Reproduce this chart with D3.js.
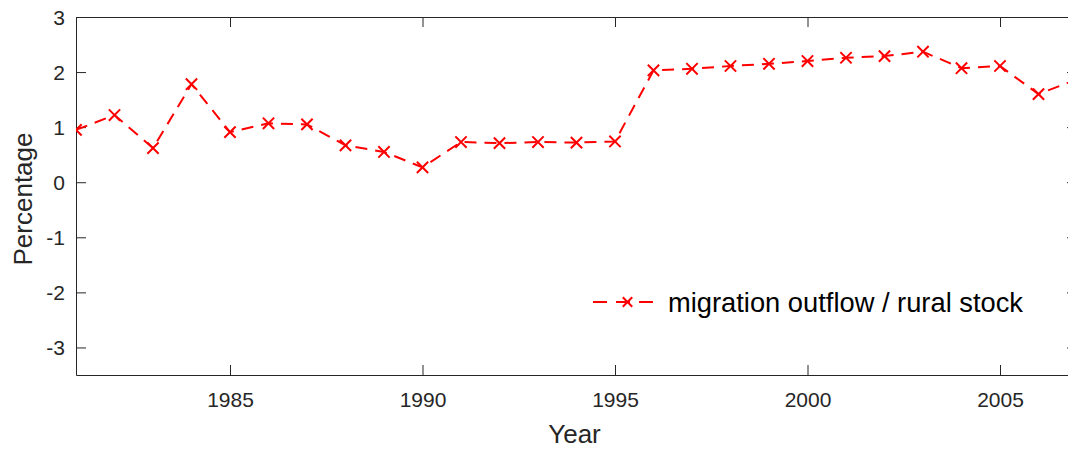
<!DOCTYPE html>
<html><head><meta charset="utf-8">
<script src="https://cdn.jsdelivr.net/npm/d3@7"></script>
<style>
html,body{margin:0;padding:0;background:#fff;overflow:hidden}
svg{display:block;font-family:"Liberation Sans",Arial,Helvetica,sans-serif}
</style></head>
<body>
<svg id="chart" width="1068" height="449"></svg>
<script>
const years = [1981,1982,1983,1984,1985,1986,1987,1988,1989,1990,1991,1992,1993,1994,1995,1996,1997,1998,1999,2000,2001,2002,2003,2004,2005,2006,2007];
const values = [0.95,1.22,0.62,1.78,0.91,1.07,1.05,0.67,0.55,0.27,0.73,0.71,0.73,0.72,0.74,2.03,2.06,2.11,2.15,2.20,2.26,2.29,2.37,2.07,2.11,1.60,1.87];
const xTicks = [1985,1990,1995,2000,2005];
const yTicks = [-3,-2,-1,0,1,2,3];
const seriesName = "migration outflow / rural stock";
const xLabel = "Year", yLabel = "Percentage";

(function(){
const svg = d3.select("#chart");
const mL = 76, mR = 1077, mT = 17, mB = 375;
const x = d3.scaleLinear().domain([1981,2007]).range([mL,mR]);
const y = d3.scaleLinear().domain([-3.5,3]).range([mB,mT]);
const axisColor = "#262626";

svg.append("clipPath").attr("id","clip").append("rect")
  .attr("x",mL).attr("y",mT).attr("width",mR-mL).attr("height",mB-mT);

// axes
const gx = svg.append("g").attr("transform",`translate(0,${mB})`)
  .call(d3.axisBottom(x).tickValues(xTicks).tickFormat(d=>String(d)).tickSizeInner(-10).tickSizeOuter(0).tickPadding(17));
const gxTop = svg.append("g").attr("transform",`translate(0,${mT})`)
  .call(d3.axisTop(x).tickValues(xTicks).tickFormat("").tickSizeInner(-10).tickSizeOuter(0));
const gy = svg.append("g").attr("transform",`translate(${mL},0)`)
  .call(d3.axisLeft(y).tickValues(yTicks).tickFormat(d=>String(d)).tickSizeInner(-10).tickSizeOuter(0).tickPadding(11));
const gyR = svg.append("g").attr("transform",`translate(${mR},0)`)
  .call(d3.axisRight(y).tickValues(yTicks).tickFormat("").tickSizeInner(-10).tickSizeOuter(0));
[gx,gxTop,gy,gyR].forEach(g=>{
  g.selectAll("path.domain").attr("stroke",axisColor).attr("stroke-width",1);
  g.selectAll(".tick line").attr("stroke",axisColor).attr("stroke-width",1);
  g.selectAll(".tick text").attr("fill",axisColor).attr("font-size",21).attr("font-family","Liberation Sans, Arial, sans-serif");
});
gy.selectAll(".tick text").attr("dy","0.35em");

// labels
svg.append("text").attr("x",574.5).attr("y",443)
  .attr("text-anchor","middle").attr("font-size",26).attr("fill",axisColor).text(xLabel);
svg.append("text").attr("transform",`translate(32,199) rotate(-90)`)
  .attr("text-anchor","middle").attr("font-size",26).attr("fill",axisColor).text(yLabel);

// line
const line = d3.line().x((d,i)=>x(years[i])).y(d=>y(d));
const g = svg.append("g").attr("clip-path","url(#clip)");
g.append("path").datum(values).attr("d",line).attr("fill","none")
  .attr("stroke","#ff0000").attr("stroke-width",2).attr("stroke-dasharray","12,8");
g.selectAll("path.m").data(values).enter().append("path").attr("class","m")
  .attr("d",d3.symbol().type(d3.symbolTimes).size(85))
  .attr("transform",(d,i)=>`translate(${x(years[i])},${y(d)})`)
  .attr("fill","none").attr("stroke","#ff0000").attr("stroke-width",2);

// legend
const lg = svg.append("g");
const lx0 = 593, lx1 = 662, ly = 302;
lg.append("line").attr("x1",lx0).attr("x2",lx1).attr("y1",ly).attr("y2",ly)
  .attr("stroke","#ff0000").attr("stroke-width",2).attr("stroke-dasharray","14,9");
lg.append("path").attr("d",d3.symbol().type(d3.symbolTimes).size(60))
  .attr("transform",`translate(${(lx0+lx1)/2},${ly})`).attr("fill","none").attr("stroke","#ff0000").attr("stroke-width",2);
lg.append("text").attr("x",668).attr("y",ly).attr("dy","0.36em").attr("font-size",27.3).attr("fill","#000").text(seriesName);
})();
</script>
</body></html>
